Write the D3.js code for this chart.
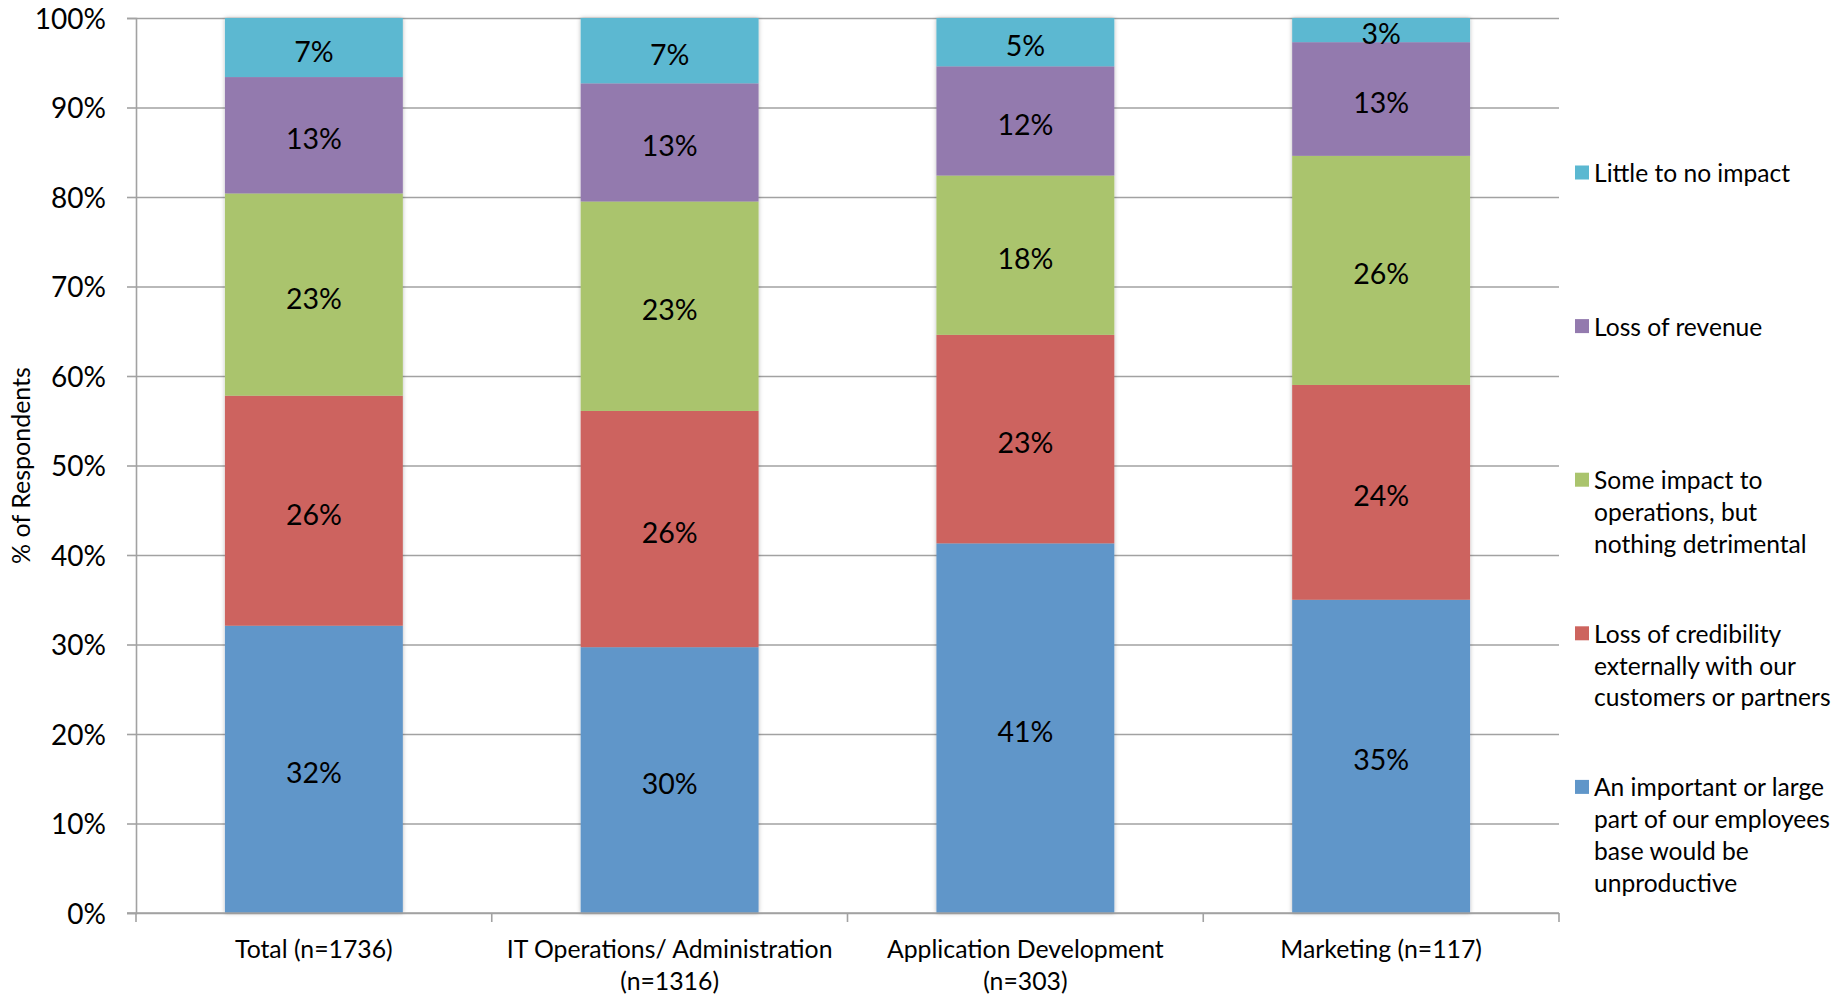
<!DOCTYPE html>
<html>
<head>
<meta charset="utf-8">
<script src="https://cdn.jsdelivr.net/npm/d3@7"></script>
<style>
  html, body { margin: 0; padding: 0; background: #ffffff; }
  svg { display: block; font-family: Lato, "Open Sans", sans-serif; }
</style>
</head>
<body>
<svg id="chart" width="1839" height="995"></svg>
<script>
// Respondent groups along the x axis ("\n" marks a line break)
const categories = [
  "Total (n=1736)",
  "IT Operations/ Administration\n(n=1316)",
  "Application Development\n(n=303)",
  "Marketing (n=117)"
];

// Stacked series, bottom to top (share of respondents, %)
const seriesNames = [
  "An important or large part of our employees base would be unproductive",
  "Loss of credibility externally with our customers or partners",
  "Some impact to operations, but nothing detrimental",
  "Loss of revenue",
  "Little to no impact"
];
const unproductive  = [32.1, 29.7, 41.3, 35.0];
const credibility   = [25.7, 26.4, 23.3, 24.0];
const someImpact    = [22.6, 23.4, 17.8, 25.6];
const revenue       = [13.0, 13.2, 12.2, 12.7];
const littleImpact  = [6.6, 7.3, 5.4, 2.7];
const seriesValues = [unproductive, credibility, someImpact, revenue, littleImpact];
const seriesColors = ["#6096c9", "#cd645e", "#aac46d", "#937aae", "#5bb8d1"];

// Legend entries, top to bottom, wrapped as displayed
const legendLines = [
  ["Little to no impact"],
  ["Loss of revenue"],
  ["Some impact to", "operations, but", "nothing detrimental"],
  ["Loss of credibility", "externally with our", "customers or partners"],
  ["An important or large", "part of our employees", "base would be", "unproductive"]
];
const legendColors = ["#5bb8d1", "#937aae", "#aac46d", "#cd645e", "#6096c9"];

const yTicks = [0, 10, 20, 30, 40, 50, 60, 70, 80, 90, 100];
const yTitle = "% of Respondents";

const svg = d3.select("#chart");
const plot = { left: 136, right: 1559, top: 18, bottom: 913 };

const x = d3.scaleBand()
  .domain(categories)
  .range([plot.left, plot.right])
  .paddingInner(0.5)
  .paddingOuter(0.25);

const y = d3.scaleLinear()
  .domain([0, 100])
  .range([plot.bottom, plot.top]);

// Soft shadow around the bars
const defs = svg.append("defs");
const shadow = defs.append("filter").attr("id", "barShadow")
  .attr("x", "-10%").attr("y", "-10%").attr("width", "120%").attr("height", "120%");
shadow.append("feDropShadow")
  .attr("dx", 0).attr("dy", 0).attr("stdDeviation", 2.2)
  .attr("flood-color", "#000").attr("flood-opacity", 0.28);

const gridColor = "#a2a2a2";

// Horizontal gridlines
svg.append("g")
  .attr("transform", `translate(${plot.left},0)`)
  .call(d3.axisLeft(y).tickValues(yTicks).tickSize(-(plot.right - plot.left)).tickFormat(""))
  .call(g => g.select(".domain").remove())
  .call(g => g.selectAll("line").attr("stroke", gridColor).attr("stroke-width", 1.6));

// Y axis with percentage labels
svg.append("g")
  .attr("transform", `translate(${plot.left},0)`)
  .call(d3.axisLeft(y).tickValues(yTicks).tickSize(9).tickPadding(21).tickFormat(d => d + "%"))
  .call(g => g.select(".domain").attr("stroke", gridColor).attr("stroke-width", 1.6))
  .call(g => g.selectAll("line").attr("stroke", gridColor).attr("stroke-width", 1.6))
  .call(g => g.selectAll("text")
    .attr("font-family", "Lato, sans-serif")
    .attr("font-size", 28).attr("fill", "#000").attr("dy", "0.36em"));

// Y axis title
svg.append("text")
  .attr("transform", `translate(30,${(plot.top + plot.bottom) / 2}) rotate(-90)`)
  .attr("text-anchor", "middle")
  .attr("font-size", 25)
  .attr("fill", "#000")
  .text(yTitle);

// Stacked bars
const stackRows = categories.map((c, i) => {
  const row = { category: c };
  seriesNames.forEach((s, k) => { row[s] = seriesValues[k][i]; });
  return row;
});
const stacked = d3.stack().keys(seriesNames)(stackRows);

const layers = svg.append("g").attr("filter", "url(#barShadow)")
  .selectAll("g.layer")
  .data(stacked)
  .join("g")
  .attr("class", "layer")
  .attr("fill", (d, k) => seriesColors[k]);

layers.selectAll("rect")
  .data(d => d)
  .join("rect")
  .attr("x", d => x(d.data.category))
  .attr("width", x.bandwidth())
  .attr("y", d => y(d[1]))
  .attr("height", d => y(d[0]) - y(d[1]));

// Value labels centred in each segment
const labelGroup = svg.append("g");
stacked.forEach(layer => {
  layer.forEach(d => {
    const v = d[1] - d[0];
    labelGroup.append("text")
      .attr("x", x(d.data.category) + x.bandwidth() / 2)
      .attr("y", (y(d[0]) + y(d[1])) / 2 + 3)
      .attr("text-anchor", "middle")
      .attr("dominant-baseline", "central")
      .attr("font-size", 28.5)
      .attr("fill", "#000")
      .text(d3.format(".0%")(v / 100));
  });
});

// X axis line and ticks at the group boundaries
const xAxisG = svg.append("g");
xAxisG.append("line")
  .attr("x1", plot.left - 9).attr("x2", plot.right)
  .attr("y1", y(0)).attr("y2", y(0))
  .attr("stroke", gridColor).attr("stroke-width", 1.6);
xAxisG.selectAll("line.tick")
  .data(d3.range(categories.length + 1))
  .join("line")
  .attr("class", "tick")
  .attr("x1", i => plot.left + i * x.step())
  .attr("x2", i => plot.left + i * x.step())
  .attr("y1", y(0)).attr("y2", y(0) + 9)
  .attr("stroke", gridColor).attr("stroke-width", 1.6);

// Category labels (possibly two lines)
const catLabels = xAxisG.selectAll("text.cat")
  .data(categories)
  .join("text")
  .attr("class", "cat")
  .attr("text-anchor", "middle")
  .attr("font-size", 24.8)
  .attr("fill", "#000");
catLabels.each(function (c) {
  const lines = c.split("\n");
  const t = d3.select(this);
  lines.forEach((ln, j) => {
    t.append("tspan")
      .attr("x", x(c) + x.bandwidth() / 2)
      .attr("y", 958 + j * 31.7)
      .text(ln);
  });
});

// Legend
const legend = svg.append("g");
legendLines.forEach((lines, i) => {
  const top = 173.5 + i * 153.6;
  legend.append("rect")
    .attr("x", 1575).attr("y", top - 8)
    .attr("width", 14).attr("height", 14)
    .attr("fill", legendColors[i]);
  const t = legend.append("text")
    .attr("font-size", 24.6)
    .attr("fill", "#000");
  lines.forEach((ln, j) => {
    t.append("tspan")
      .attr("x", 1594)
      .attr("y", top + 8.5 + j * 31.7)
      .text(ln);
  });
});
</script>
</body>
</html>
